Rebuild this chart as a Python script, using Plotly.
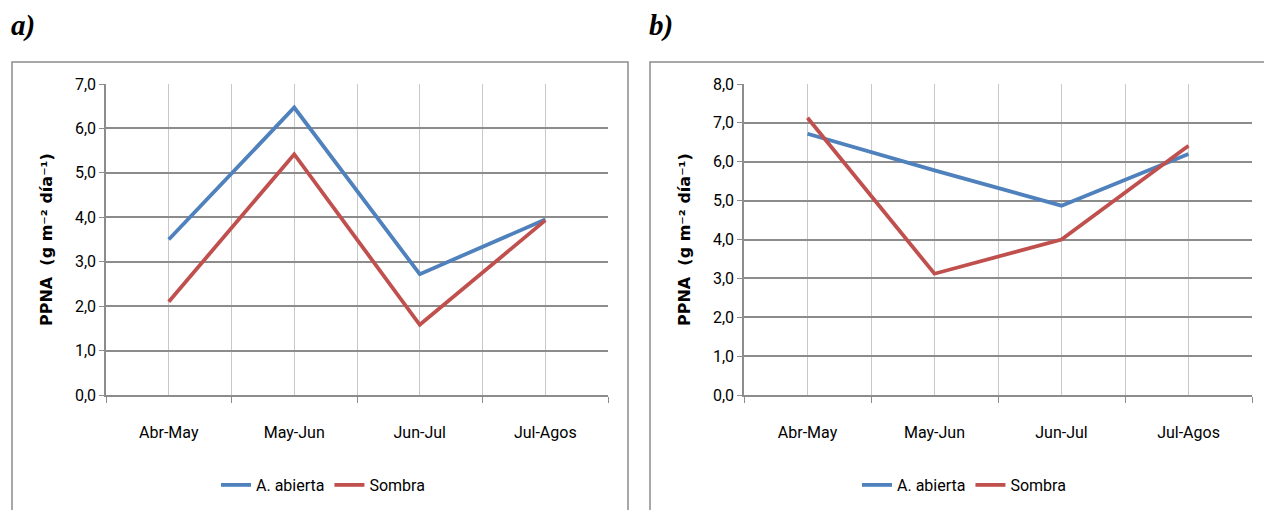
import plotly.graph_objects as go

W, H = 1264, 510

periodos = ["Abr-May", "May-Jun", "Jun-Jul", "Jul-Agos"]

# Panel a
a_abierta = [3.50, 6.47, 2.72, 3.95]
a_sombra = [2.10, 5.42, 1.58, 3.93]

# Panel b
b_abierta = [6.72, 5.78, 4.87, 6.20]
b_sombra = [7.13, 3.12, 4.00, 6.41]

AZUL = "#4F81BD"
ROJO = "#C0504D"
GRID_H = "#8C8C8C"
GRID_V = "#C8C8C8"
TICK_FONT = "Roboto, sans-serif"


def px_x(p):
    return p / W


def px_y(p):
    return 1 - p / H


fig = go.Figure()

xi = list(range(len(periodos)))
paneles = [
    ("x", "y", "legend", a_abierta, a_sombra),
    ("x2", "y2", "legend2", b_abierta, b_sombra),
]
for xa, ya, lg, abierta, sombra in paneles:
    fig.add_trace(go.Scatter(x=xi, y=abierta, mode="lines", name="A. abierta",
                             line=dict(color=AZUL, width=3.8), xaxis=xa, yaxis=ya,
                             legend=lg))
    fig.add_trace(go.Scatter(x=xi, y=sombra, mode="lines", name="Sombra",
                             line=dict(color=ROJO, width=3.8), xaxis=xa, yaxis=ya,
                             legend=lg))


def eje_x(x0, x1):
    return dict(
        domain=[px_x(x0), px_x(x1)],
        range=[-0.5, len(periodos) - 0.5],
        tickvals=xi, ticktext=periodos, ticks="",
        showgrid=True, gridcolor=GRID_V, gridwidth=1,
        showline=True, linecolor=GRID_H, linewidth=1.5,
        zeroline=False, fixedrange=True, automargin=False,
        ticklabelstandoff=22,
        tickfont=dict(family=TICK_FONT, size=16, color="#000"),
        minor=dict(tickvals=[i - 0.5 for i in range(len(periodos) + 1)],
                   ticks="outside", ticklen=6, tickcolor=GRID_H,
                   showgrid=True, gridcolor=GRID_V, gridwidth=1),
    )


def eje_y(ymax, anchor):
    return dict(
        domain=[px_y(395), px_y(84)],
        range=[0, ymax], dtick=1, tick0=0, tickformat=".1f",
        ticks="outside", ticklen=5, tickcolor=GRID_H,
        showgrid=True, gridcolor=GRID_H, gridwidth=1.5,
        showline=True, linecolor=GRID_H, linewidth=1.5,
        zeroline=False, fixedrange=True, anchor=anchor, automargin=False,
        tickfont=dict(family=TICK_FONT, size=16, color="#000"),
    )


leyenda = dict(orientation="h", xanchor="center", yanchor="middle",
               font=dict(family=TICK_FONT, size=16, color="#000"),
               itemwidth=30, tracegroupgap=0, bgcolor="rgba(0,0,0,0)")

fig.update_layout(
    width=W, height=H,
    margin=dict(l=0, r=0, t=0, b=0, pad=0, autoexpand=False),
    paper_bgcolor="white", plot_bgcolor="white",
    separators=",.",
    xaxis=dict(eje_x(106, 608), anchor="y"),
    yaxis=eje_y(7, "x"),
    xaxis2=dict(eje_x(744, 1252), anchor="y2"),
    yaxis2=eje_y(8, "x2"),
    legend=dict(leyenda, x=px_x(323), y=px_y(485)),
    legend2=dict(leyenda, x=px_x(964), y=px_y(485)),
    showlegend=True,
)

# Chart-area frames
for x0, x1 in [(12, 628), (650, 1275)]:
    fig.add_shape(type="rect", xref="paper", yref="paper",
                  x0=px_x(x0), x1=px_x(x1), y0=px_y(520), y1=px_y(62),
                  line=dict(color=GRID_H, width=1.5), fillcolor="rgba(0,0,0,0)",
                  layer="below")

# Panel letters
for letra, xp in [("a)", 9), ("b)", 647)]:
    fig.add_annotation(text=f"<b><i>{letra}</i></b>", xref="paper", yref="paper",
                       x=px_x(xp), y=px_y(25), xanchor="left", yanchor="middle",
                       showarrow=False,
                       font=dict(family="Liberation Serif, serif", size=29, color="#000"))

# Y-axis titles
for xp in [46, 684]:
    fig.add_annotation(text="<b>PPNA  (g m⁻² día⁻¹)</b>",
                       xref="paper", yref="paper", x=px_x(xp), y=px_y(240),
                       xanchor="center", yanchor="middle", textangle=-90,
                       showarrow=False,
                       font=dict(family="DejaVu Sans, sans-serif", size=16,
                                 color="#000"))

fig.write_html("out.html")
